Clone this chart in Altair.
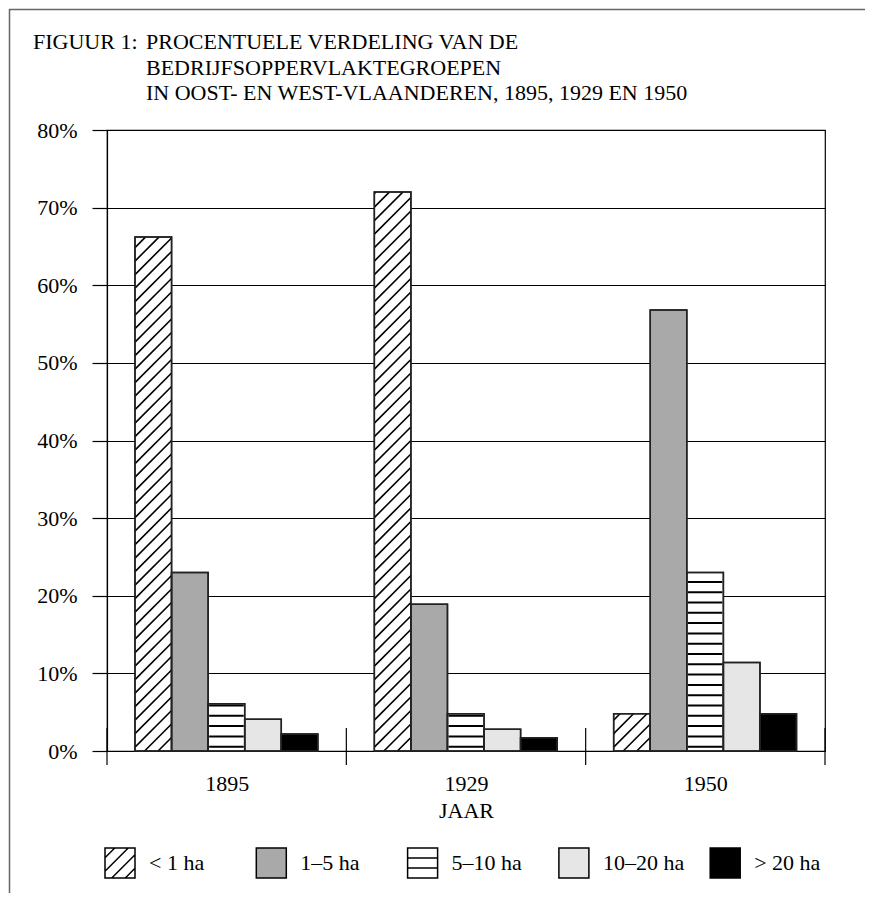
import altair as alt
import pandas as pd

# ---------------- data ----------------
YEARS = ["1895", "1929", "1950"]
CATEGORIES = ["< 1 ha", "1–5 ha", "5–10 ha", "10–20 ha", "> 20 ha"]
LT_1 = [66.2, 72.0, 4.8]
HA_1_5 = [23.0, 18.9, 56.8]
HA_5_10 = [6.1, 4.8, 23.0]
HA_10_20 = [4.1, 2.8, 11.4]
GT_20 = [2.2, 1.7, 4.8]
SERIES = [LT_1, HA_1_5, HA_5_10, HA_10_20, GT_20]
Y_TICKS = [0, 10, 20, 30, 40, 50, 60, 70, 80]

TITLE_HEAD = "FIGUUR 1:"
TITLE_LINES = [
    "PROCENTUELE VERDELING VAN DE",
    "BEDRIJFSOPPERVLAKTEGROEPEN",
    "IN OOST- EN WEST-VLAANDEREN, 1895, 1929 EN 1950",
]
X_TITLE = "JAAR"

# ---------------- layout / style ----------------
W, H = 718, 621
PAD = {"left": 99, "top": 122, "right": 40, "bottom": 142}
YMAX = 0.8
GROUP_PAD = 0.117     # fraction of a year band before first bar
BAR_W = 0.1528        # fraction of a year band per bar
FONT = "Liberation Serif"
FS = 22
FILLS = ["#ffffff", "#a9a9a9", "#ffffff", "#e6e6e6", "#000000"]
SQ = "M-1,-1H1V1H-1Z"
SHAPES = [
    SQ + "M-1,-0.35L-0.35,-1M-1,0.55L0.55,-1M-0.55,1L1,-0.55M0.35,1L1,0.35",
    SQ,
    SQ + "M-1,-0.33H1M-1,0.33H1",
    SQ,
    SQ,
]

n_years = len(YEARS)
px_x = W / n_years
px_y = H / YMAX

rows = []
for yi, yr in enumerate(YEARS):
    for ci, cat in enumerate(CATEGORIES):
        rows.append({"year": yr, "yi": yi, "cat": cat, "ci": ci,
                     "pct": SERIES[ci][yi] / 100.0})
df = pd.DataFrame(rows)

label_expr = "[" + ",".join(f"'{y}'" for y in YEARS) + "][floor(datum.value)]"


def X(field):
    return alt.X(field, type="quantitative", title=X_TITLE,
                 scale=alt.Scale(domain=[0, n_years], nice=False, zero=False),
                 axis=alt.Axis(values=[i + 0.5 for i in range(n_years)], labelExpr=label_expr,
                               ticks=False, grid=False, labelPadding=22, titlePadding=6))


def Y(field):
    return alt.Y(field, type="quantitative", title="",
                 scale=alt.Scale(domain=[0, YMAX], nice=False),
                 axis=alt.Axis(values=[t / 100 for t in Y_TICKS], format=".0%", tickSize=15,
                               labelPadding=15, grid=True))


FILL_SCALE = alt.Scale(domain=CATEGORIES, range=FILLS)

base = alt.Chart(df).transform_calculate(
    x0=f"datum.yi + {GROUP_PAD} + datum.ci * {BAR_W}",
    x1=f"datum.yi + {GROUP_PAD} + (datum.ci + 1) * {BAR_W}",
    xc=f"datum.yi + {GROUP_PAD} + (datum.ci + 0.5) * {BAR_W}",
    ymid="datum.pct / 2",
    zero="0",
)

legend = alt.Legend(
    orient="none", legendX=-3, legendY=717, direction="horizontal",
    columns=5, gridAlign="all", symbolSize=900, symbolStrokeWidth=1.5,
    symbolOpacity=1, labelFont=FONT, labelFontSize=FS,
    labelColor="black", labelOffset=13, columnPadding=22.3, labelLimit=300,
)

# hidden points (drawn under the bars) that carry the legend
legend_pts = base.mark_point(filled=True, size=4, strokeWidth=1.5, opacity=1).encode(
    x=X("xc"),
    y=Y("ymid"),
    fill=alt.Fill("cat:N", scale=FILL_SCALE, sort=CATEGORIES, legend=legend, title=""),
    shape=alt.Shape("cat:N", scale=alt.Scale(domain=CATEGORIES, range=SHAPES),
                    sort=CATEGORIES, legend=legend, title=""),
    stroke=alt.value("black"),
)

bars = base.mark_rect(stroke="#222", strokeWidth=1.5).encode(
    x=X("x0"), x2="x1:Q",
    y=Y("pct"), y2="zero:Q",
    fill=alt.Fill("cat:N", scale=FILL_SCALE, sort=CATEGORIES, legend=None),
)

# diagonal hatching for "< 1 ha" bars (45 degree lines clipped to the bar)
bar_px = BAR_W * px_x
SPACING = 13.5
hatch_rows = []
for yi, v in enumerate(LT_1):
    x0 = yi + GROUP_PAD
    hv = v / 100.0 * px_y
    k = 0
    while True:
        yk = k * SPACING - bar_px
        if yk >= hv:
            break
        t0 = max(0.0, -yk)
        t1 = min(bar_px, hv - yk)
        if t1 > t0:
            hatch_rows.append({"hx": x0 + t0 / px_x, "hx2": x0 + t1 / px_x,
                               "hy": (yk + t0) / px_y, "hy2": (yk + t1) / px_y})
        k += 1
hatch = alt.Chart(pd.DataFrame(hatch_rows)).mark_rule(color="black", strokeWidth=1.6).encode(
    x=X("hx"), x2="hx2:Q", y=Y("hy"), y2="hy2:Q",
)

# horizontal stripes for "5–10 ha" bars (thick dashed rule)
stripes = base.transform_filter("datum.ci == 2").mark_rule(
    color="black", strokeWidth=bar_px - 2, strokeDash=[2, 8.3], strokeDashOffset=7,
    strokeCap="butt",
).encode(x=X("xc"), y=Y("zero"), y2="pct:Q")

outlines = base.mark_rect(filled=False, stroke="#222", strokeWidth=1.5).encode(
    x=X("x0"), x2="x1:Q", y=Y("pct"), y2="zero:Q",
)

# year band separators crossing the baseline
seps = alt.Chart(pd.DataFrame({"b": list(range(n_years + 1))})).mark_rule(
    color="black", strokeWidth=1.2).encode(
    x=X("b"), y=alt.value(H - 23), y2=alt.value(H + 14),
)

one = pd.DataFrame({"a": [0]})
frame_left = alt.Chart(one).mark_rule(color="#666", strokeWidth=1.5).encode(
    x=alt.value(-PAD["left"] + 1.5), y=alt.value(-PAD["top"] + 1),
    y2=alt.value(H + PAD["bottom"]))
frame_top = alt.Chart(one).mark_rule(color="#666", strokeWidth=1.5).encode(
    x=alt.value(-PAD["left"] + 1), x2=alt.value(W + PAD["right"]),
    y=alt.value(-PAD["top"] + 1.5))

title_head = alt.Chart(one).mark_text(
    align="left", baseline="alphabetic", font=FONT, fontSize=FS, color="black").encode(
    x=alt.value(-74), y=alt.value(-81), text=alt.value(TITLE_HEAD))
title_body = alt.Chart(one).mark_text(
    align="left", baseline="alphabetic", font=FONT, fontSize=FS, color="black",
    lineHeight=25.5).encode(
    x=alt.value(39), y=alt.value(-81), text=alt.value(TITLE_LINES))

chart = alt.layer(
    legend_pts, bars, hatch, stripes, outlines, seps,
    frame_left, frame_top, title_head, title_body,
).properties(
    width=W, height=H,
    autosize=alt.AutoSizeParams(type="none"),
    padding=PAD,
).configure_axis(
    labelFont=FONT, labelFontSize=FS, labelColor="black",
    titleFont=FONT, titleFontSize=FS, titleFontWeight="normal", titleColor="black",
    domainColor="black", tickColor="black", gridColor="black", gridWidth=1,
    domainWidth=1.2, tickWidth=1.2,
).configure_view(stroke="black", strokeWidth=1.2)

chart.save("out.html", embed_options={"renderer": "svg", "actions": False})
